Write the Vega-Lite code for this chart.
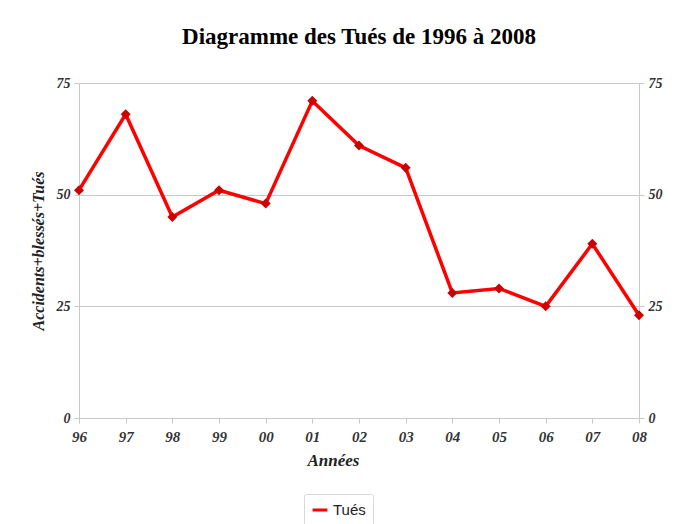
{
  "$schema": "https://vega.github.io/schema/vega-lite/v6.json",
  "width": 560,
  "height": 335,
  "autosize": "none",
  "padding": {"left": 79, "top": 83, "right": 48, "bottom": 106},
  "background": "white",
  "title": {
    "text": "Diagramme des Tués de 1996 à 2008",
    "font": "Liberation Serif",
    "fontSize": 23,
    "fontWeight": "bold",
    "color": "black",
    "anchor": "middle",
    "offset": 27
  },
  "data": {
    "values": [
      {"annee": "96", "tues": 51, "serie": "Tués"},
      {"annee": "97", "tues": 68, "serie": "Tués"},
      {"annee": "98", "tues": 45, "serie": "Tués"},
      {"annee": "99", "tues": 51, "serie": "Tués"},
      {"annee": "00", "tues": 48, "serie": "Tués"},
      {"annee": "01", "tues": 71, "serie": "Tués"},
      {"annee": "02", "tues": 61, "serie": "Tués"},
      {"annee": "03", "tues": 56, "serie": "Tués"},
      {"annee": "04", "tues": 28, "serie": "Tués"},
      {"annee": "05", "tues": 29, "serie": "Tués"},
      {"annee": "06", "tues": 25, "serie": "Tués"},
      {"annee": "07", "tues": 39, "serie": "Tués"},
      {"annee": "08", "tues": 23, "serie": "Tués"}
    ]
  },
  "encoding": {
    "x": {
      "field": "annee",
      "type": "ordinal",
      "sort": null,
      "scale": {"type": "point", "padding": 0},
      "axis": {
        "title": "Années",
        "titleFont": "Liberation Serif",
        "titleFontSize": 17,
        "titleFontWeight": "bold",
        "titleFontStyle": "italic",
        "titleColor": "#222",
        "titlePadding": 8,
        "titleX": 254,
        "labelFont": "Liberation Serif",
        "labelFontSize": 15,
        "labelFontWeight": "bold",
        "labelFontStyle": "italic",
        "labelColor": "#333",
        "labelAngle": 0,
        "labelPadding": 6,
        "tickSize": 5,
        "tickColor": "#c8c8c8",
        "domainColor": "#c8c8c8",
        "grid": false
      }
    }
  },
  "layer": [
    {
      "mark": {"type": "line", "strokeWidth": 3.5},
      "encoding": {
        "y": {
          "field": "tues",
          "type": "quantitative",
          "scale": {"domain": [0, 75], "nice": false},
          "axis": {
            "orient": "left",
            "values": [0, 25, 50, 75],
            "title": "Accidents+blessés+Tués",
            "titleFont": "Liberation Serif",
            "titleFontSize": 16,
            "titleFontWeight": "bold",
            "titleFontStyle": "italic",
            "titleColor": "#222",
            "titlePadding": 10,
            "labelFont": "Liberation Serif",
            "labelFontSize": 14,
            "labelFontWeight": "bold",
            "labelFontStyle": "italic",
            "labelColor": "#333",
            "labelPadding": 4,
            "tickSize": 5,
            "tickColor": "#c8c8c8",
            "domainColor": "#c8c8c8",
            "grid": true,
            "gridColor": "#c8c8c8",
            "gridWidth": 1
          }
        },
        "color": {
          "field": "serie",
          "type": "nominal",
          "scale": {"range": ["#ff0000"]},
          "legend": {
            "title": null,
            "orient": "none",
            "legendX": 225,
            "legendY": 411,
            "padding": 7,
            "strokeColor": "#d8d8d8",
            "fillColor": "white",
            "cornerRadius": 2,
            "symbolType": "stroke",
            "symbolStrokeWidth": 3,
            "symbolSize": 220,
            "labelFont": "Liberation Sans",
            "labelFontSize": 15,
            "labelColor": "#222",
            "labelOffset": 4
          }
        }
      }
    },
    {
      "mark": {"type": "point", "shape": "diamond", "filled": true, "color": "#cc0000", "size": 100, "opacity": 1},
      "encoding": {
        "y": {
          "field": "tues",
          "type": "quantitative",
          "scale": {"domain": [0, 75], "nice": false},
          "axis": {
            "orient": "right",
            "values": [0, 25, 50, 75],
            "title": null,
            "labelFont": "Liberation Serif",
            "labelFontSize": 14,
            "labelFontWeight": "bold",
            "labelFontStyle": "italic",
            "labelColor": "#333",
            "labelPadding": 4,
            "tickSize": 5,
            "tickColor": "#c8c8c8",
            "domainColor": "#c8c8c8",
            "grid": false
          }
        }
      }
    }
  ],
  "resolve": {"axis": {"y": "independent"}},
  "config": {"view": {"stroke": null}}
}
